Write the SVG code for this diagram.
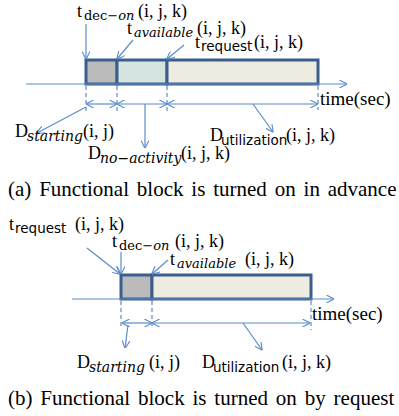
<svg xmlns="http://www.w3.org/2000/svg" width="399" height="416" viewBox="0 0 399 416">
<style>
.lbl{font-family:"Liberation Serif","Times New Roman",serif;font-size:18px;fill:#000}
.sub{font-family:"DejaVu Serif","Liberation Serif",serif;font-size:13px}
.subs{font-family:"DejaVu Sans","Liberation Sans",sans-serif;font-size:13.5px}
.it{font-style:italic}
.cap{font-family:"Liberation Serif","Times New Roman",serif;font-size:21px;fill:#000;word-spacing:2.6px}
.box{stroke:#3b5e8c;stroke-width:3}
.ln{stroke:#5b8ccc;stroke-width:1.2;fill:none}
.ar{stroke:#5b8ccc;stroke-width:1.2;fill:none;marker-end:url(#ah)}
.dd{stroke:#5b8ccc;stroke-width:1.2;fill:none;marker-start:url(#ah);marker-end:url(#ah)}
.dash{stroke:#5b8ccc;stroke-width:1.2;stroke-dasharray:4,3;fill:none}
</style>
<defs>
<marker id="ah" viewBox="0 0 10 10" refX="9.5" refY="5" markerWidth="8" markerHeight="8" markerUnits="userSpaceOnUse" orient="auto-start-reverse">
<path d="M0,0 L10,5 L0,10" fill="none" stroke="#5b8ccc" stroke-width="1.4"/>
</marker>
</defs>

<!-- Diagram (a) -->
<g id="a-blocks">
<rect class="box" x="86" y="60" width="31" height="24" fill="#bbbbbb"/>
<rect class="box" x="117" y="60" width="50" height="24" fill="#d5e3e1"/>
<rect class="box" x="167" y="60" width="151" height="24" fill="#eeece1"/>
</g>

<g id="a-connectors">
<line class="ar" x1="26" y1="84" x2="347" y2="84"/>
<line class="dash" x1="86" y1="86" x2="86" y2="112"/>
<line class="dash" x1="117" y1="86" x2="117" y2="112"/>
<line class="dash" x1="167" y1="86" x2="167" y2="112"/>
<line class="dash" x1="318" y1="86" x2="318" y2="110"/>
<line class="dd" x1="86" y1="104" x2="117" y2="104"/>
<line class="dd" x1="117" y1="104" x2="167" y2="104"/>
<line class="dd" x1="167" y1="104" x2="318" y2="104"/>
<line class="ar" x1="86" y1="24" x2="86" y2="59"/>
<line class="ar" x1="133" y1="40" x2="117" y2="59"/>
<line class="ar" x1="184" y1="45" x2="167" y2="59"/>
<line class="ar" x1="86" y1="107" x2="37" y2="133"/>
<line class="ar" x1="145" y1="104" x2="145" y2="148"/>
<line class="ar" x1="253" y1="104" x2="273" y2="132"/>
</g>

<g id="a-t-dec-on">
<text class="lbl" x="77" y="17">t</text>
<text class="lbl sub" x="84" y="20">dec−<tspan class="it">on</tspan></text>
<text class="lbl" x="138" y="17">(i, j, k)</text>
</g>
<g id="a-t-available">
<text class="lbl" x="127" y="34">t</text>
<text class="lbl sub it" x="134" y="37">available</text>
<text class="lbl" x="197" y="34">(i, j, k)</text>
</g>
<g id="a-t-request">
<text class="lbl" x="195" y="48">t</text>
<text class="lbl subs" x="201" y="51">request</text>
<text class="lbl" x="254" y="48">(i, j, k)</text>
</g>
<g id="a-time">
<text class="lbl" x="320" y="105" style="font-size:19px">time(sec)</text>
</g>
<g id="a-d-starting">
<text class="lbl" x="15" y="137">D</text>
<text class="lbl sub it" x="27" y="141" style="font-size:14px">starting</text>
<text class="lbl" x="83" y="137">(i, j)</text>
</g>
<g id="a-d-no-activity">
<text class="lbl" x="88" y="159">D</text>
<text class="lbl sub it" x="100" y="163" style="font-size:14px">no−activity</text>
<text class="lbl" x="181" y="159">(i, j, k)</text>
</g>
<g id="a-d-utilization">
<text class="lbl" x="210" y="141">D</text>
<text class="lbl subs" x="221" y="145">utilization</text>
<text class="lbl" x="286" y="141">(i, j, k)</text>
</g>
<g id="a-caption">
<text class="cap" x="8" y="196">(a) Functional block is turned on in advance</text>
</g>

<!-- Diagram (b) -->
<g id="b-blocks">
<rect class="box" x="121" y="275" width="31" height="24" fill="#bbbbbb"/>
<rect class="box" x="152" y="275" width="159" height="24" fill="#eeece1"/>
</g>

<g id="b-connectors">
<line class="ar" x1="72" y1="299" x2="334" y2="299"/>
<line class="dash" x1="121" y1="301" x2="121" y2="328"/>
<line class="dash" x1="152" y1="301" x2="152" y2="328"/>
<line class="dash" x1="311" y1="301" x2="311" y2="330"/>
<line class="dd" x1="122" y1="323" x2="152" y2="323"/>
<line class="dd" x1="152" y1="323" x2="310" y2="323"/>
<line class="ar" x1="87" y1="248" x2="120" y2="274"/>
<line class="ar" x1="121" y1="252" x2="121" y2="274"/>
<line class="ar" x1="168" y1="260" x2="152" y2="274"/>
<line class="ar" x1="128" y1="325" x2="125" y2="348"/>
<line class="ar" x1="243" y1="323" x2="262" y2="350"/>
</g>

<g id="b-t-request">
<text class="lbl" x="9" y="230">t</text>
<text class="lbl subs" x="15" y="233">request</text>
<text class="lbl" x="75" y="230">(i, j, k)</text>
</g>
<g id="b-t-dec-on">
<text class="lbl" x="112" y="247">t</text>
<text class="lbl sub" x="119" y="250">dec−<tspan class="it">on</tspan></text>
<text class="lbl" x="175" y="247">(i, j, k)</text>
</g>
<g id="b-t-available">
<text class="lbl" x="170" y="265">t</text>
<text class="lbl sub it" x="177" y="268">available</text>
<text class="lbl" x="245" y="265">(i, j, k)</text>
</g>
<g id="b-time">
<text class="lbl" x="312" y="320" style="font-size:19px">time(sec)</text>
</g>
<g id="b-d-starting">
<text class="lbl" x="77" y="368">D</text>
<text class="lbl sub it" x="89" y="372" style="font-size:14px">starting</text>
<text class="lbl" x="149" y="368">(i, j)</text>
</g>
<g id="b-d-utilization">
<text class="lbl" x="202" y="368">D</text>
<text class="lbl subs" x="213" y="372">utilization</text>
<text class="lbl" x="282" y="368">(i, j, k)</text>
</g>
<g id="b-caption">
<text class="cap" x="8" y="405">(b) Functional block is turned on by request</text>
</g>
</svg>
